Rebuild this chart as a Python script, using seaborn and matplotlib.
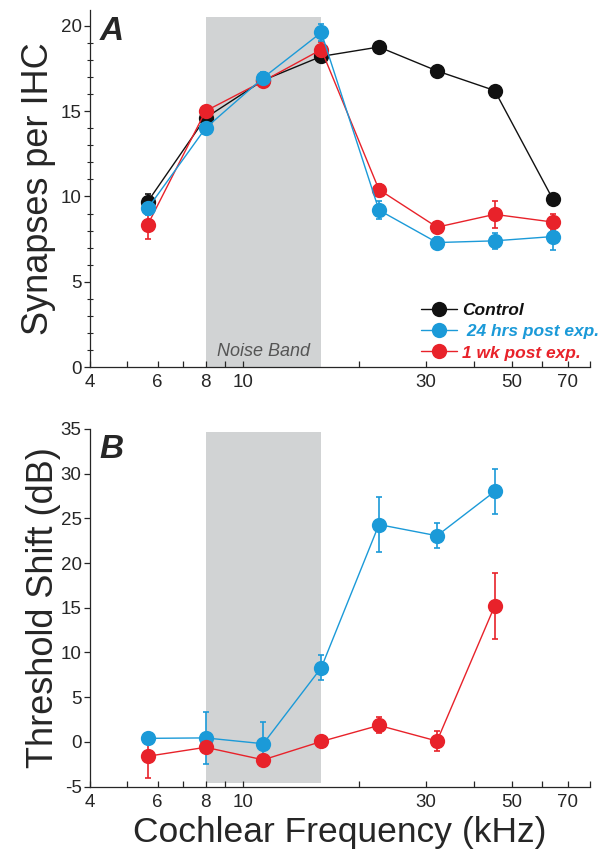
import matplotlib
matplotlib.use("Agg")
import matplotlib.pyplot as plt
import matplotlib.ticker as mticker
import seaborn as sns
import pandas as pd

# frequencies (kHz)
freqs = [5.66, 8.0, 11.3, 16.0, 22.6, 32.0, 45.2, 64.0]

# panel A: synapses per IHC
control_syn = [9.7, 14.6, 16.8, 18.2, 18.75, 17.35, 16.2, 9.85]
control_syn_err = [0.45, 0.25, 0.2, 0.25, 0.2, 0.2, 0.2, 0.2]
hrs24_syn = [9.3, 14.0, 16.95, 19.6, 9.2, 7.3, 7.4, 7.65]
hrs24_syn_err = [0.4, 0.3, 0.35, 0.5, 0.55, 0.35, 0.45, 0.8]
wk1_syn = [8.35, 15.0, 16.75, 18.6, 10.4, 8.2, 8.95, 8.5]
wk1_syn_err = [0.85, 0.3, 0.25, 0.45, 0.3, 0.3, 0.8, 0.45]

# panel B: threshold shift (dB), no 64 kHz point
freqs_b = freqs[:7]
hrs24_ts = [0.4, 0.45, -0.2, 8.3, 24.3, 23.05, 28.0]
hrs24_ts_err = [0.3, 2.95, 2.4, 1.4, 3.05, 1.4, 2.55]
wk1_ts = [-1.6, -0.6, -2.0, 0.05, 1.85, 0.1, 15.2]
wk1_ts_err = [2.45, 0.4, 0.4, 0.3, 0.9, 1.1, 3.65]

groups = ["Control", " 24 hrs post exp.", "1 wk post exp."]
colors = {"Control": "#111111", " 24 hrs post exp.": "#1b9ad8", "1 wk post exp.": "#e8222a"}
noise_band = (8, 16)

sns.set_style("ticks")
plt.rcParams["font.family"] = ["Liberation Sans", "DejaVu Sans"]
plt.rcParams["axes.unicode_minus"] = False

df_a = pd.concat([
    pd.DataFrame({"freq": freqs, "val": control_syn, "err": control_syn_err, "group": groups[0]}),
    pd.DataFrame({"freq": freqs, "val": wk1_syn, "err": wk1_syn_err, "group": groups[2]}),
    pd.DataFrame({"freq": freqs, "val": hrs24_syn, "err": hrs24_syn_err, "group": groups[1]}),
])
df_b = pd.concat([
    pd.DataFrame({"freq": freqs_b, "val": hrs24_ts, "err": hrs24_ts_err, "group": groups[1]}),
    pd.DataFrame({"freq": freqs_b, "val": wk1_ts, "err": wk1_ts_err, "group": groups[2]}),
])

fig = plt.figure(figsize=(6.07, 8.56), dpi=100)
ax_a = fig.add_axes([0.148, 0.571, 0.824, 0.417])
ax_b = fig.add_axes([0.148, 0.081, 0.824, 0.418])


def draw(ax, df, band_lo, band_hi):
    ax.axvspan(noise_band[0], noise_band[1], ymin=band_lo, ymax=band_hi,
               color="#d1d3d4", lw=0, zorder=0)
    for g in df["group"].unique():
        sub = df[df["group"] == g]
        ax.errorbar(sub["freq"], sub["val"], yerr=sub["err"], fmt="none",
                    ecolor=colors[g], elinewidth=1.2, capsize=2.5, capthick=1.2, zorder=2)
    sns.lineplot(data=df, x="freq", y="val", hue="group", palette=colors,
                 hue_order=list(dict.fromkeys(df["group"])), marker="o",
                 markersize=11, markeredgewidth=0, linewidth=1, ax=ax,
                 legend=False, zorder=3, estimator=None, sort=True)
    ax.set_xscale("log")
    ax.set_xlim(4, 80)
    ax.xaxis.set_major_locator(mticker.FixedLocator([4, 6, 8, 10, 30, 50, 70]))
    ax.xaxis.set_major_formatter(mticker.FixedFormatter(["4", "6", "8", "10", "30", "50", "70"]))
    ax.xaxis.set_minor_locator(mticker.FixedLocator([5, 7, 9, 20, 40, 60, 80]))
    ax.xaxis.set_minor_formatter(mticker.NullFormatter())
    ax.tick_params(axis="x", which="both", direction="in", length=4, width=0.9,
                   labelsize=13.5, pad=5)
    ax.tick_params(axis="y", which="major", direction="out", length=4, width=0.9,
                   labelsize=13.5, pad=2)
    sns.despine(ax=ax)
    ax.spines["left"].set_linewidth(0.9)
    ax.spines["bottom"].set_linewidth(0.9)
    ax.set_xlabel("")


draw(ax_a, df_a, 0.0, 0.982)
ax_a.set_ylim(0, 20.9)
ax_a.set_yticks([0, 5, 10, 15, 20])
ax_a.yaxis.set_minor_locator(mticker.MultipleLocator(1))
ax_a.tick_params(axis="y", which="minor", direction="inout", length=4, width=0.8)
ax_a.set_ylabel("Synapses per IHC", fontsize=26, labelpad=3)
ax_a.text(11.3, 0.45, "Noise Band", ha="center", va="bottom", fontsize=13,
          style="italic", color="#555555")
ax_a.text(0.02, 0.985, "A", transform=ax_a.transAxes, fontsize=24,
          fontweight="bold", style="italic", ha="left", va="top")

# legend built from the series colours
handles = [plt.Line2D([], [], color=colors[g], marker="o", markersize=11,
                      markeredgewidth=0, lw=1) for g in groups]
leg = ax_a.legend(handles, groups, loc="lower right", bbox_to_anchor=(1.05, -0.025),
                  frameon=False, handlelength=2.1, handletextpad=0.3,
                  labelspacing=0.35, prop={"size": 12.5, "weight": "bold", "style": "italic"})
for txt, g in zip(leg.get_texts(), groups):
    txt.set_color(colors[g])

draw(ax_b, df_b, 0.011, 0.99)
ax_b.set_ylim(-5, 35)
ax_b.set_yticks([-5, 0, 5, 10, 15, 20, 25, 30, 35])
ax_b.set_ylabel("Threshold Shift (dB)", fontsize=26, labelpad=0)
ax_b.set_xlabel("Cochlear Frequency (kHz)", fontsize=25.5, labelpad=4)
ax_b.text(0.02, 0.985, "B", transform=ax_b.transAxes, fontsize=24,
          fontweight="bold", style="italic", ha="left", va="top")

fig.savefig("out.png", dpi=100)
